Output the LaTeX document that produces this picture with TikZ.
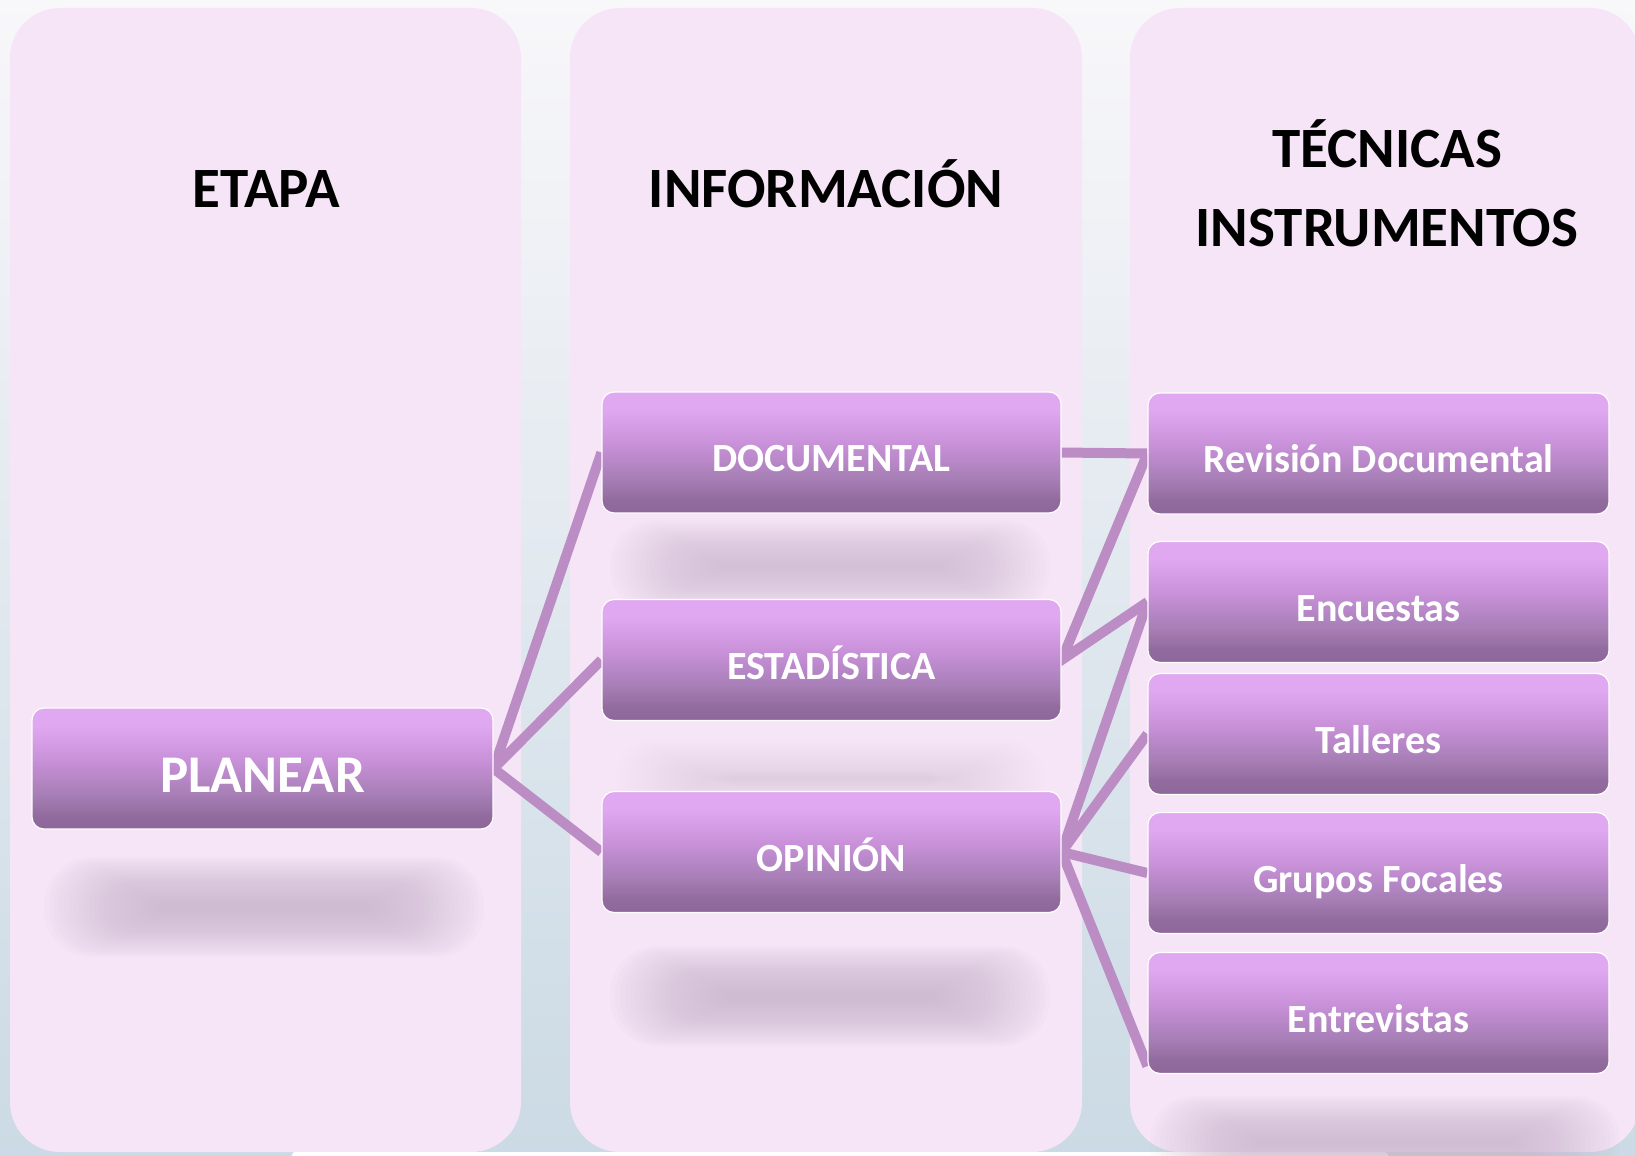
\documentclass[tikz,border=0pt]{standalone}
\usepackage{fontspec}
\setmainfont{Carlito}
\usetikzlibrary{calc}
\definecolor{colbg}{HTML}{F5E5F6}
\definecolor{bgtop}{HTML}{F8F7FA}
\definecolor{bgbot}{HTML}{CBDAE4}
\definecolor{shad}{HTML}{C9B3CD}
\definecolor{linec}{HTML}{BC8DC4}
\definecolor{bxT}{HTML}{E0A8F1}
\definecolor{bxM}{HTML}{C790D7}
\definecolor{bxB}{HTML}{A67EB5}
\definecolor{bxC}{HTML}{936C9F}
\definecolor{bxD}{HTML}{8D6799}
\pgfdeclareverticalshading{boxshade}{100bp}{color(0bp)=(bxD); color(25bp)=(bxD); color(31bp)=(bxC); color(39bp)=(bxB); color(53bp)=(bxM); color(68bp)=(bxT); color(75bp)=(bxT); color(100bp)=(bxT)}
\pgfdeclarelayer{bg}
\pgfdeclarelayer{lines}
\pgfsetlayers{bg,lines,main}
\tikzset{
  boxnode/.style={shade, shading=boxshade, draw=white, line width=1.2pt,
    rounded corners=12pt, minimum width=461pt, minimum height=121pt,
    inner sep=0pt, text=white, font=\bfseries\fontsize{40}{40}\selectfont,
    text height=38pt, text depth=0pt},
  bignode/.style={boxnode, font=\bfseries\fontsize{53}{53}\selectfont, text height=48pt},
  header/.style={anchor=base, text=black, font=\bfseries\fontsize{57}{57}\selectfont, inner sep=0pt},
  conn/.style={draw=linec, line width=10pt},
  column/.style={fill=colbg, rounded corners=50pt}
}
\begin{document}
\begin{tikzpicture}[x=1pt,y=-1pt]
\useasboundingbox (0,0) rectangle (1635,1156);
\begin{pgfonlayer}{bg}
  \shade[top color=bgtop, bottom color=bgbot] (0,0) rectangle (1635,1156);
  \fill[column] (10,8) rectangle (521,1152);
  \fill[column] (570,8) rectangle (1082,1152);
  \fill[column] (1130,8) rectangle (1640,1152);
  \fill[white, rounded corners=3pt] (292,1152) rectangle (1388,1162);
  % soft reflection shadows (stacked translucent rounded bands)
  \foreach \cx/\cy/\w/\h/\op in {264/907/220/50/0.05, 830/566/220/46/0.045,
      830/778/215/38/0.02, 830/996/220/50/0.05, 1385/1142/235/46/0.05}{
    \foreach \i in {0,...,23}{
      \pgfmathsetmacro{\rr}{max(1,0.95*(\h-\i*2))}
      \fill[shad, opacity=\op, rounded corners=\rr pt]
        ({\cx-\w+\i*5},{\cy-\h+\i*2}) rectangle ({\cx+\w-\i*5},{\cy+\h-\i*2});
    }
  }
\end{pgfonlayer}

\node[header] (hetapa) at (266,207) {ETAPA};
\node[header] (hinfo) at (826,207) {INFORMACIÓN};
\node[header] (htec) at (1387,167) {TÉCNICAS};
\node[header] (hins) at (1387,246) {INSTRUMENTOS};

\node[bignode] (plan) at (262.5,768.5) {PLANEAR};
\node[boxnode, minimum width=459pt] (doc) at (831.5,452.5) {DOCUMENTAL};
\node[boxnode, minimum width=459pt] (est) at (831.5,660) {ESTADÍSTICA};
\node[boxnode, minimum width=459pt] (opi) at (831.5,852) {OPINIÓN};
\node[boxnode] (rev) at (1378.5,453.5) {Revisión Documental};
\node[boxnode] (enc) at (1378.5,602) {Encuestas};
\node[boxnode] (tal) at (1378.5,734) {Talleres};
\node[boxnode] (gru) at (1378.5,873) {Grupos Focales};
\node[boxnode] (ent) at (1378.5,1013) {Entrevistas};
\coordinate (entend) at ([yshift=8pt]ent.south west);

\begin{pgfonlayer}{lines}
  \draw[conn] (doc.west) -- (plan.east) -- (est.west);
  \draw[conn] (plan.east) -- (opi.west);
  \draw[conn] (doc.east) -- (rev.west);
  \draw[conn] (rev.west) -- (est.east) -- (enc.west);
  \draw[conn] (enc.west) -- (opi.east) -- (tal.west);
  \draw[conn] (opi.east) -- (gru.west);
  \draw[conn] (opi.east) -- (entend);
\end{pgfonlayer}
\end{tikzpicture}
\end{document}
